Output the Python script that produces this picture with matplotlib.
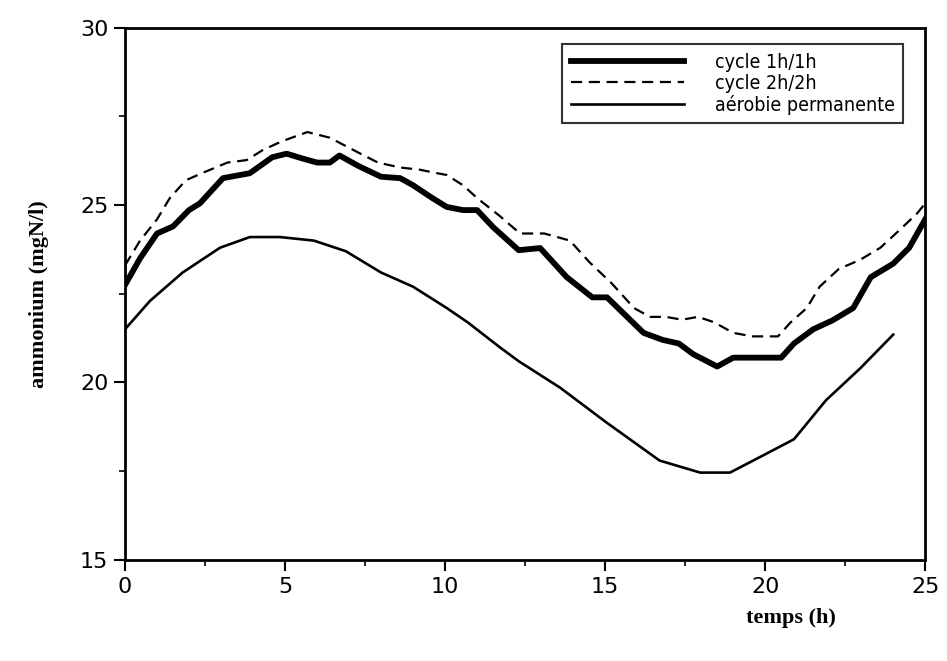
import numpy as np
import matplotlib.pyplot as plt
from matplotlib.ticker import MultipleLocator

# cycle 1h/1h (thick line)
t_c1 = [0.0, 0.47, 1.0, 1.5, 2.0, 2.34, 3.06, 3.9, 4.6, 5.05, 5.6, 6.0, 6.4, 6.7,
        7.3, 8.0, 8.6, 9.0, 9.6, 10.05, 10.56, 11.0, 11.5, 12.3, 12.97, 13.8, 14.6,
        15.06, 16.2, 16.8, 17.3, 17.75, 18.5, 19.0, 20.5, 20.9, 21.5, 22.1, 22.75,
        23.3, 24.0, 24.5, 25.0]
nh4_c1 = [22.75, 23.5, 24.2, 24.4, 24.86, 25.05, 25.76, 25.9, 26.35, 26.45, 26.3, 26.2,
          26.2, 26.4, 26.1, 25.8, 25.76, 25.56, 25.2, 24.95, 24.86, 24.86, 24.38, 23.73,
          23.79, 22.97, 22.4, 22.4, 21.4, 21.2, 21.1, 20.8, 20.45, 20.7, 20.7, 21.1, 21.5,
          21.75, 22.1, 22.97, 23.35, 23.8, 24.6]

# cycle 2h/2h (dashed line)
t_c2 = [0.0, 0.47, 1.0, 1.4, 1.9, 2.4, 3.2, 3.8, 4.3, 4.9, 5.7, 6.4, 7.25, 7.9, 8.6,
        9.2, 9.75, 10.05, 10.56, 11.0, 11.7, 12.34, 13.1, 13.9, 14.5, 15.2, 15.9, 16.4,
        16.9, 17.4, 17.9, 18.4, 19.0, 19.6, 20.4, 20.8, 21.3, 21.7, 22.3, 22.97, 23.6,
        24.2, 24.75, 25.0]
nh4_c2 = [23.3, 24.0, 24.6, 25.2, 25.7, 25.9, 26.2, 26.27, 26.55, 26.8, 27.06, 26.9,
          26.5, 26.2, 26.06, 26.0, 25.9, 25.85, 25.56, 25.2, 24.7, 24.2, 24.2, 24.0, 23.4,
          22.8, 22.1, 21.85, 21.85, 21.77, 21.85, 21.7, 21.4, 21.3, 21.3, 21.7, 22.1, 22.7,
          23.2, 23.46, 23.8, 24.3, 24.77, 25.05]

# aérobie permanente (thin line)
t_aer = [0.0, 0.78, 1.8, 2.97, 3.9, 4.84, 5.9, 6.9, 8.0, 9.0, 10.05, 10.7, 11.7, 12.3,
         13.6, 15.0, 16.7, 17.97, 18.9, 19.84, 20.9, 21.9, 22.97, 24.0]
nh4_aer = [21.5, 22.3, 23.1, 23.8, 24.1, 24.1, 24.0, 23.7, 23.1, 22.7, 22.1, 21.7, 21.0,
           20.6, 19.85, 18.9, 17.8, 17.46, 17.46, 17.9, 18.4, 19.5, 20.4, 21.35]

fig = plt.figure(figsize=(9.47, 6.61), dpi=100)
ax = fig.add_axes([0.132, 0.153, 0.845, 0.805])

ax.plot(t_c1, nh4_c1, color='black', lw=4.2, solid_joinstyle='round', label='cycle 1h/1h')
ax.plot(t_c2, nh4_c2, color='black', lw=1.6, ls=(0, (5, 3)), label='cycle 2h/2h')
ax.plot(t_aer, nh4_aer, color='black', lw=1.9, label='aérobie permanente')

ax.set_xlim(0, 25)
ax.set_ylim(15, 30)
ax.xaxis.set_major_locator(MultipleLocator(5))
ax.xaxis.set_minor_locator(MultipleLocator(2.5))
ax.yaxis.set_major_locator(MultipleLocator(5))
ax.yaxis.set_minor_locator(MultipleLocator(2.5))
ax.tick_params(which='major', direction='out', length=8, width=1.5, labelsize=16, pad=4)
ax.tick_params(which='minor', direction='out', length=4, width=1.2)
for s in ax.spines.values():
    s.set_linewidth(2)

serif = {'family': 'Liberation Serif', 'weight': 'bold', 'size': 16}
ax.set_ylabel('ammonium (mgN/l)', fontdict=serif, labelpad=22)
fig.text(0.835, 0.065, 'temps (h)', fontdict=serif, ha='center', va='center')

leg = ax.legend(loc='upper right', bbox_to_anchor=(0.985, 0.988), frameon=True,
                fancybox=False, edgecolor='black', handlelength=5.8,
                handletextpad=1.6, borderpad=0.45, labelspacing=0.1,
                prop={'family': 'DejaVu Sans', 'stretch': 'condensed', 'size': 14})
leg.get_frame().set_linewidth(1.5)

fig.savefig('out.png', dpi=100)
